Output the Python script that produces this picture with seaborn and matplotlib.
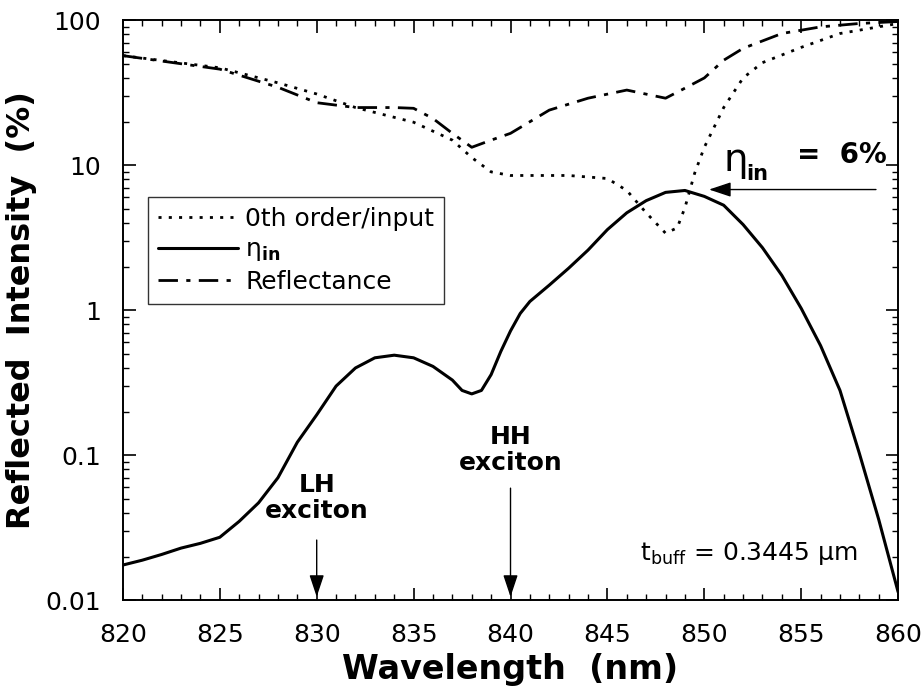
# Reflected intensity vs wavelength - 0th order, eta_in and reflectance

import matplotlib
matplotlib.use("Agg")
import matplotlib.pyplot as plt
from matplotlib.ticker import MultipleLocator, LogLocator, FixedLocator, FixedFormatter
import seaborn as sns

# Wavelength grids (nm) and values (%)
wl_eta = [820, 821, 822, 823, 824, 825, 826, 827, 828, 829, 830, 831, 832, 833,
          834, 835, 836, 837, 837.5, 838, 838.5, 839, 839.5, 840, 840.5, 841, 842,
          843, 844, 845, 846, 847, 848, 849, 850, 851, 852, 853, 854, 855, 856,
          857, 858, 859, 860]
eta_in = [0.0175, 0.0189, 0.0207, 0.0229, 0.0247, 0.0272, 0.035, 0.047, 0.070,
          0.123, 0.19, 0.30, 0.40, 0.47, 0.49, 0.47, 0.41, 0.33, 0.28, 0.265,
          0.28, 0.36, 0.52, 0.72, 0.95, 1.15, 1.49, 1.95, 2.6, 3.6, 4.7, 5.7,
          6.5, 6.7, 6.1, 5.3, 3.9, 2.7, 1.74, 1.03, 0.57, 0.28, 0.103, 0.036, 0.0114]

wl_zero = [820, 825, 828, 830, 832, 835, 837, 838, 839, 840, 843, 845, 846, 847,
           848, 848.6, 849, 849.5, 850, 851, 852, 853, 855, 857, 860]
zero_order = [57, 47, 37, 31, 25, 19.8, 14.9, 11.3, 9.0, 8.5, 8.5, 8.1, 6.7, 4.7,
              3.4, 3.7, 5.1, 8.8, 13.3, 25, 40, 51, 65, 81, 95]

wl_refl = [820, 825, 828, 830, 832, 834, 835, 836, 837, 838, 839, 840, 842, 844,
           846, 848, 849, 850, 851, 852, 854, 856, 858, 860]
reflectance = [57, 46, 34.5, 27, 25, 25, 24.7, 21, 16.6, 13.3, 14.9, 16.6, 24,
               29, 33, 29, 34, 40, 53, 64, 81, 90, 95, 98]

y_ticks = [0.01, 0.1, 1, 10, 100]
y_tick_labels = ["0.01", "0.1", "1", "10", "100"]

sns.set_style("ticks")
plt.rcParams["font.family"] = ["DejaVu Sans"]
plt.rcParams["mathtext.fontset"] = "dejavusans"
for key in ["text.color", "axes.labelcolor", "xtick.color", "ytick.color"]:
    plt.rcParams[key] = "black"

fig = plt.figure(figsize=(9.24, 6.98), dpi=100)
ax = fig.add_axes([0.133, 0.140, 0.839, 0.831])

sns.lineplot(x=wl_zero, y=zero_order, ax=ax, color="black", lw=2.0,
             linestyle=(0, (1.1, 2.6)), label="0th order/input")
sns.lineplot(x=wl_eta, y=eta_in, ax=ax, color="black", lw=2.2,
             label=r"$\mathrm{\eta}_{\mathbf{in}}$")
sns.lineplot(x=wl_refl, y=reflectance, ax=ax, color="black", lw=2.0,
             linestyle=(0, (7, 3, 1.5, 3)), label="Reflectance")

ax.set_yscale("log")
ax.set_xlim(820, 860)
ax.set_ylim(0.01, 100)

ax.xaxis.set_major_locator(MultipleLocator(5))
ax.xaxis.set_minor_locator(MultipleLocator(1))
ax.yaxis.set_major_locator(FixedLocator(y_ticks))
ax.yaxis.set_major_formatter(FixedFormatter(y_tick_labels))
ax.yaxis.set_minor_locator(LogLocator(base=10, subs=range(2, 10)))
ax.tick_params(which="both", direction="in", top=True, right=True, labelsize=18)
ax.tick_params(axis="x", which="major", pad=16)
ax.tick_params(axis="y", which="major", pad=16)
ax.tick_params(which="major", length=9, width=1.2)
ax.tick_params(which="minor", length=4.5, width=1.0)
for s in ax.spines.values():
    s.set_color("black")
    s.set_linewidth(1.4)

ax.set_xlabel("Wavelength  (nm)", fontsize=24, fontweight="bold", labelpad=5)
ax.set_ylabel("Reflected  Intensity  (%)", fontsize=23, fontweight="bold",
              labelpad=6)

leg = ax.legend(loc="upper left", bbox_to_anchor=(0.032, 0.695), fontsize=18,
                frameon=True, fancybox=False, handlelength=3.2, handletextpad=0.3,
                borderpad=0.4, labelspacing=0.25, borderaxespad=0)
leg.get_frame().set_edgecolor("black")
leg.get_frame().set_linewidth(1.0)

# Exciton markers
arrow = dict(arrowstyle="-|>,head_length=0.9,head_width=0.3", color="black",
             lw=1.0, mutation_scale=15)
ax.annotate("", xy=(830, 0.0101), xytext=(830, 0.0272), arrowprops=arrow)
ax.text(830, 0.051, "LH\nexciton", ha="center", va="center", fontsize=18,
        fontweight="bold", linespacing=1.1)
ax.annotate("", xy=(840, 0.0101), xytext=(840, 0.062), arrowprops=arrow)
ax.text(840, 0.108, "HH\nexciton", ha="center", va="center", fontsize=18,
        fontweight="bold", linespacing=1.1)

# Peak efficiency label
ax.annotate("", xy=(850.1, 6.8), xytext=(859.0, 6.8), arrowprops=arrow)
ax.text(851.6, 10.8, "\u03b7", fontsize=28, ha="center", va="center")
ax.text(852.15, 8.67, "in", fontsize=15, fontweight="bold", ha="left",
        va="center")
ax.text(854.8, 11.7, "=  6%", fontsize=20, fontweight="bold", ha="left",
        va="center")

ax.text(846.7, 0.021, r"$\mathrm{t}_{\mathrm{buff}}$ = 0.3445 " + "\u03bcm",
        fontsize=18, ha="left", va="center")

fig.savefig("out.png", dpi=100)
